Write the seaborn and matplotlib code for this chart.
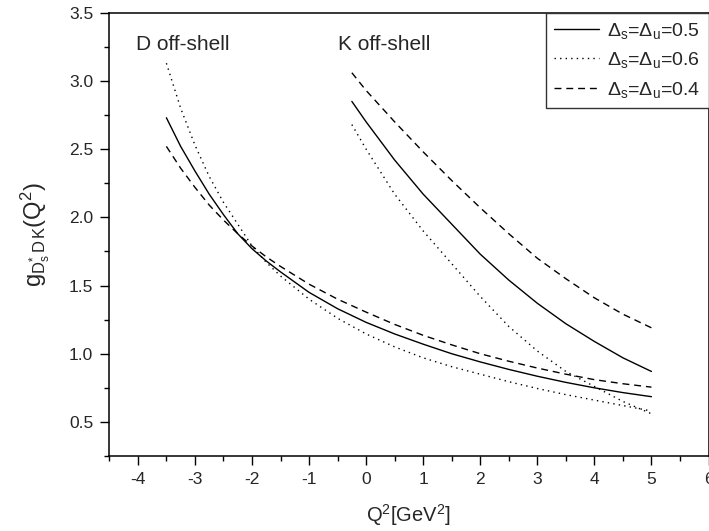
import numpy as np
import pandas as pd
import matplotlib
matplotlib.use('Agg')
import matplotlib.pyplot as plt
import seaborn as sns
from matplotlib.ticker import MultipleLocator

# Q^2 grid for the two families of curves
q2_d = [-3.5, -3.25, -3.0, -2.75, -2.5, -2.25, -2.0, -1.75, -1.5, -1.0, -0.5,
        0.0, 0.5, 1.0, 1.5, 2.0, 2.5, 3.0, 3.5, 4.0, 4.5, 5.0]
q2_k = [-0.25, 0.0, 0.5, 1.0, 1.5, 2.0, 2.5, 3.0, 3.5, 4.0, 4.5, 5.0]

# D off-shell
d_05 = [2.73, 2.52, 2.34, 2.17, 2.02, 1.88, 1.77, 1.68, 1.60, 1.45, 1.33,
        1.23, 1.145, 1.07, 1.00, 0.94, 0.885, 0.835, 0.79, 0.75, 0.715, 0.685]
d_06 = [3.13, 2.80, 2.53, 2.30, 2.11, 1.95, 1.79, 1.67, 1.57, 1.40, 1.26,
        1.145, 1.05, 0.97, 0.905, 0.85, 0.795, 0.745, 0.70, 0.66, 0.62, 0.58]
d_04 = [2.52, 2.36, 2.22, 2.09, 1.98, 1.88, 1.79, 1.71, 1.64, 1.51, 1.40,
        1.305, 1.215, 1.135, 1.065, 1.00, 0.945, 0.895, 0.85, 0.81, 0.78, 0.755]

# K off-shell
k_05 = [2.85, 2.70, 2.42, 2.17, 1.95, 1.73, 1.54, 1.37, 1.22, 1.09, 0.97, 0.87]
k_06 = [2.68, 2.50, 2.17, 1.90, 1.66, 1.42, 1.20, 1.02, 0.87, 0.76, 0.65, 0.56]
k_04 = [3.06, 2.93, 2.70, 2.48, 2.27, 2.07, 1.88, 1.70, 1.55, 1.41, 1.29, 1.19]

deltas = ['0.5', '0.6', '0.4']
styles = {'0.5': '-', '0.6': (0, (1, 3)), '0.4': (0, (5, 3.5))}

frames = []
for d, yd, yk in zip(deltas, [d_05, d_06, d_04], [k_05, k_06, k_04]):
    frames.append(pd.DataFrame({'Q2': q2_d, 'g': yd, 'delta': d, 'shell': 'D'}))
    frames.append(pd.DataFrame({'Q2': q2_k, 'g': yk, 'delta': d, 'shell': 'K'}))
df = pd.concat(frames, ignore_index=True)

sns.set_style('ticks')
plt.rcParams['font.family'] = ['Liberation Sans', 'DejaVu Sans']
plt.rcParams['mathtext.fontset'] = 'custom'
plt.rcParams['mathtext.rm'] = 'Liberation Sans'
plt.rcParams['mathtext.it'] = 'Liberation Sans:italic'
plt.rcParams['mathtext.bf'] = 'Liberation Sans:bold'
plt.rcParams['axes.unicode_minus'] = False

fig = plt.figure(figsize=(7.09, 5.31), dpi=100)
ax = fig.add_axes([0.1542, 0.1412, 0.8451, 0.8348])

for d in deltas:
    for shell in ['D', 'K']:
        sub = df[(df.delta == d) & (df.shell == shell)]
        lab = rf'$\Delta_{{\mathrm{{s}}}}$=$\Delta_{{\mathrm{{u}}}}$={d}' if shell == 'K' else None
        sns.lineplot(data=sub, x='Q2', y='g', ax=ax, color='black',
                     linestyle=styles[d], linewidth=1.0, label=lab, sort=False)

ax.set_xlim(-4.5, 6)
ax.set_ylim(0.25, 3.5)
ax.xaxis.set_major_locator(MultipleLocator(1))
ax.xaxis.set_minor_locator(MultipleLocator(0.5))
ax.yaxis.set_major_locator(MultipleLocator(0.5))
ax.yaxis.set_minor_locator(MultipleLocator(0.25))
ax.set_yticks([0.5, 1.0, 1.5, 2.0, 2.5, 3.0, 3.5])
ax.tick_params(which='major', direction='out', length=6.5, width=1.0,
               labelsize=12.5, pad=5, color='black')
ax.tick_params(which='minor', direction='out', length=3.5, width=1.0, color='black')
ax.tick_params(top=False, right=False, which='both')
for s in ax.spines.values():
    s.set_visible(True)
    s.set_linewidth(1.1)
    s.set_color('black')

ax.set_xlabel(r'Q$^{2}$[GeV$^{2}$]', fontsize=14.5, labelpad=11)
ax.set_ylabel(r'g$_{\mathrm{D}^{*}_{\mathrm{s}}\,\mathrm{D\,K}}$(Q$^{2}$)',
              fontsize=17, labelpad=12)

ax.text(-4.03, 3.23, 'D off-shell', fontsize=15, va='baseline', ha='left')
ax.text(-0.49, 3.23, 'K off-shell', fontsize=15, va='baseline', ha='left')

leg = ax.legend(loc='upper right', bbox_to_anchor=(1.0, 1.0), borderaxespad=0,
                fontsize=14, frameon=True, fancybox=False, framealpha=1,
                edgecolor='#333333', handlelength=2.3, handletextpad=0.45,
                labelspacing=0.5, borderpad=0.4)
leg.get_frame().set_linewidth(1.0)

fig.savefig('out.png', dpi=100)
